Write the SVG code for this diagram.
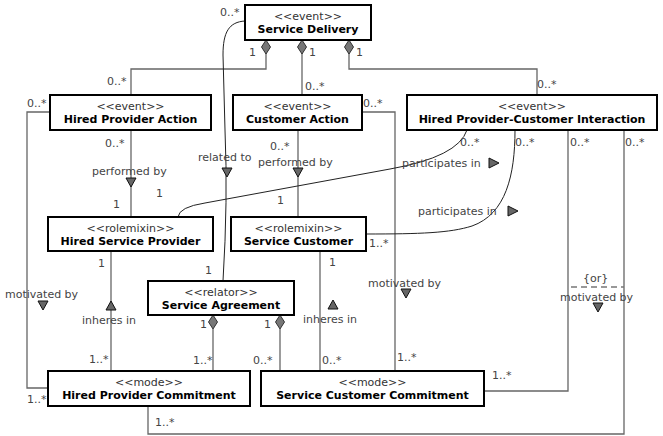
<svg xmlns="http://www.w3.org/2000/svg" xmlns:xlink="http://www.w3.org/1999/xlink" width="663" height="436" viewBox="0 0 663 436">
<style>
.box{fill:#fff;stroke:#000;stroke-width:2}
.st{font-family:"DejaVu Sans",sans-serif;font-size:11px;fill:#333;text-anchor:middle}
.nm{font-family:"DejaVu Sans",sans-serif;font-size:11px;font-weight:bold;fill:#000;text-anchor:middle}
.lb{font-family:"DejaVu Sans",sans-serif;font-size:11px;fill:#444}
.ln{fill:none;stroke:#666;stroke-width:1.3}
.cv{fill:none;stroke:#222;stroke-width:1}
.ds{fill:none;stroke:#777;stroke-width:1.5;stroke-dasharray:6,4}
.tri{fill:#666;stroke:#111;stroke-width:1}
.dia{fill:#777;stroke:#333;stroke-width:1}
</style>
<defs>
<polygon id="tdown" class="tri" points="-5,0 5,0 0,9"/>
<polygon id="tup" class="tri" points="-5,9 5,9 0,0"/>
<polygon id="tright" class="tri" points="0,-5 0,5 10,0"/>
<polygon id="dia" class="dia" points="0,0 4.5,7 0,14 -4.5,7"/>
</defs>
<rect width="663" height="436" fill="#fff"/>
<g id="connectors">
<path class="ln" d="M266,53 V69 H131 V95"/>
<path class="ln" d="M302,53 V95"/>
<path class="ln" d="M349,53 V69 H537 V95"/>
<path class="cv" d="M245,21 C229,22 223,32 223,55 L225,130 Q228,200 223,281"/>
<path class="ln" d="M131,130 V217"/>
<path class="ln" d="M298,130 V217"/>
<path class="ln" d="M50,112 H27 V388 H48"/>
<path class="ln" d="M362,112 H395 V371"/>
<path class="ln" d="M111,251 V371"/>
<path class="ln" d="M320,251 V371"/>
<path class="ln" d="M213,329 V371"/>
<path class="ln" d="M280,329 V371"/>
<path class="cv" d="M178,217 Q179,207 205,203 L390,169 Q458,157 467,130"/>
<path class="cv" d="M515,130 C515,175 506,214 472,226 C450,233 420,234 366,234"/>
<path class="ln" d="M148,406 V434 H624 V130"/>
<path class="ln" d="M484,391 H568 V130"/>
<path class="ds" d="M571,287 H624"/>
<use xlink:href="#dia" x="266" y="40"/>
<use xlink:href="#dia" x="302" y="40"/>
<use xlink:href="#dia" x="349" y="40"/>
<use xlink:href="#dia" x="213" y="315"/>
<use xlink:href="#dia" x="280" y="315"/>
<use xlink:href="#tdown" x="131" y="178"/>
<use xlink:href="#tdown" x="227" y="168"/>
<use xlink:href="#tdown" x="298" y="168"/>
<use xlink:href="#tdown" x="43" y="301"/>
<use xlink:href="#tdown" x="406" y="289"/>
<use xlink:href="#tdown" x="598" y="303"/>
<use xlink:href="#tup" x="111" y="301"/>
<use xlink:href="#tup" x="333" y="300"/>
<use xlink:href="#tright" x="489" y="163"/>
<use xlink:href="#tright" x="508" y="211"/>
<text class="lb" x="220" y="16">0..*</text>
<text class="lb" x="249" y="56">1</text>
<text class="lb" x="309" y="56">1</text>
<text class="lb" x="356" y="56">1</text>
<text class="lb" x="107" y="85">0..*</text>
<text class="lb" x="305" y="90">0..*</text>
<text class="lb" x="537" y="88">0..*</text>
<text class="lb" x="27" y="107">0..*</text>
<text class="lb" x="363" y="107">0..*</text>
<text class="lb" x="105" y="147">0..*</text>
<text class="lb" x="270" y="150">0..*</text>
<text class="lb" x="460" y="146">0..*</text>
<text class="lb" x="515" y="146">0..*</text>
<text class="lb" x="570" y="146">0..*</text>
<text class="lb" x="625" y="146">0..*</text>
<text class="lb" x="198" y="161">related to</text>
<text class="lb" x="258" y="166">performed by</text>
<text class="lb" x="92" y="175">performed by</text>
<text class="lb" x="402" y="167">participates in</text>
<text class="lb" x="418" y="215">participates in</text>
<text class="lb" x="156" y="197">1</text>
<text class="lb" x="113" y="208">1</text>
<text class="lb" x="277" y="204">1</text>
<text class="lb" x="369" y="247">1..*</text>
<text class="lb" x="98" y="267">1</text>
<text class="lb" x="329" y="266">1</text>
<text class="lb" x="205" y="274">1</text>
<text class="lb" x="583" y="282">{or}</text>
<text class="lb" x="368" y="287">motivated by</text>
<text class="lb" x="5" y="298">motivated by</text>
<text class="lb" x="560" y="301">motivated by</text>
<text class="lb" x="82" y="324">inheres in</text>
<text class="lb" x="303" y="323">inheres in</text>
<text class="lb" x="200" y="328">1</text>
<text class="lb" x="264" y="328">1</text>
<text class="lb" x="397" y="361">1..*</text>
<text class="lb" x="89" y="363">1..*</text>
<text class="lb" x="193" y="364">1..*</text>
<text class="lb" x="253" y="364">0..*</text>
<text class="lb" x="322" y="364">0..*</text>
<text class="lb" x="492" y="379">1..*</text>
<text class="lb" x="27" y="403">1..*</text>
<text class="lb" x="155" y="426">1..*</text>
</g>
<g id="service-delivery">
<rect class="box" x="245" y="5" width="126" height="35"/>
<text class="st" x="308" y="20">&lt;&lt;event&gt;&gt;</text>
<text class="nm" x="308" y="33">Service Delivery</text>
</g>
<g id="hired-provider-action">
<rect class="box" x="50" y="95" width="161" height="35"/>
<text class="st" x="130.5" y="110">&lt;&lt;event&gt;&gt;</text>
<text class="nm" x="130.5" y="123">Hired Provider Action</text>
</g>
<g id="customer-action">
<rect class="box" x="233" y="95" width="129" height="35"/>
<text class="st" x="297.5" y="110">&lt;&lt;event&gt;&gt;</text>
<text class="nm" x="297.5" y="123">Customer Action</text>
</g>
<g id="hired-provider-customer-interaction">
<rect class="box" x="407" y="95" width="250" height="35"/>
<text class="st" x="532" y="110">&lt;&lt;event&gt;&gt;</text>
<text class="nm" x="532" y="123">Hired Provider-Customer Interaction</text>
</g>
<g id="hired-service-provider">
<rect class="box" x="48" y="217" width="165" height="34"/>
<text class="st" x="130.5" y="232">&lt;&lt;rolemixin&gt;&gt;</text>
<text class="nm" x="130.5" y="245">Hired Service Provider</text>
</g>
<g id="service-customer">
<rect class="box" x="231" y="217" width="135" height="34"/>
<text class="st" x="298.5" y="232">&lt;&lt;rolemixin&gt;&gt;</text>
<text class="nm" x="298.5" y="245">Service Customer</text>
</g>
<g id="service-agreement">
<rect class="box" x="148" y="281" width="146" height="34"/>
<text class="st" x="221" y="296">&lt;&lt;relator&gt;&gt;</text>
<text class="nm" x="221" y="309">Service Agreement</text>
</g>
<g id="hired-provider-commitment">
<rect class="box" x="48" y="371" width="202" height="35"/>
<text class="st" x="149" y="386">&lt;&lt;mode&gt;&gt;</text>
<text class="nm" x="149" y="399">Hired Provider Commitment</text>
</g>
<g id="service-customer-commitment">
<rect class="box" x="261" y="371" width="223" height="35"/>
<text class="st" x="372.5" y="386">&lt;&lt;mode&gt;&gt;</text>
<text class="nm" x="372.5" y="399">Service Customer Commitment</text>
</g>
</svg>
